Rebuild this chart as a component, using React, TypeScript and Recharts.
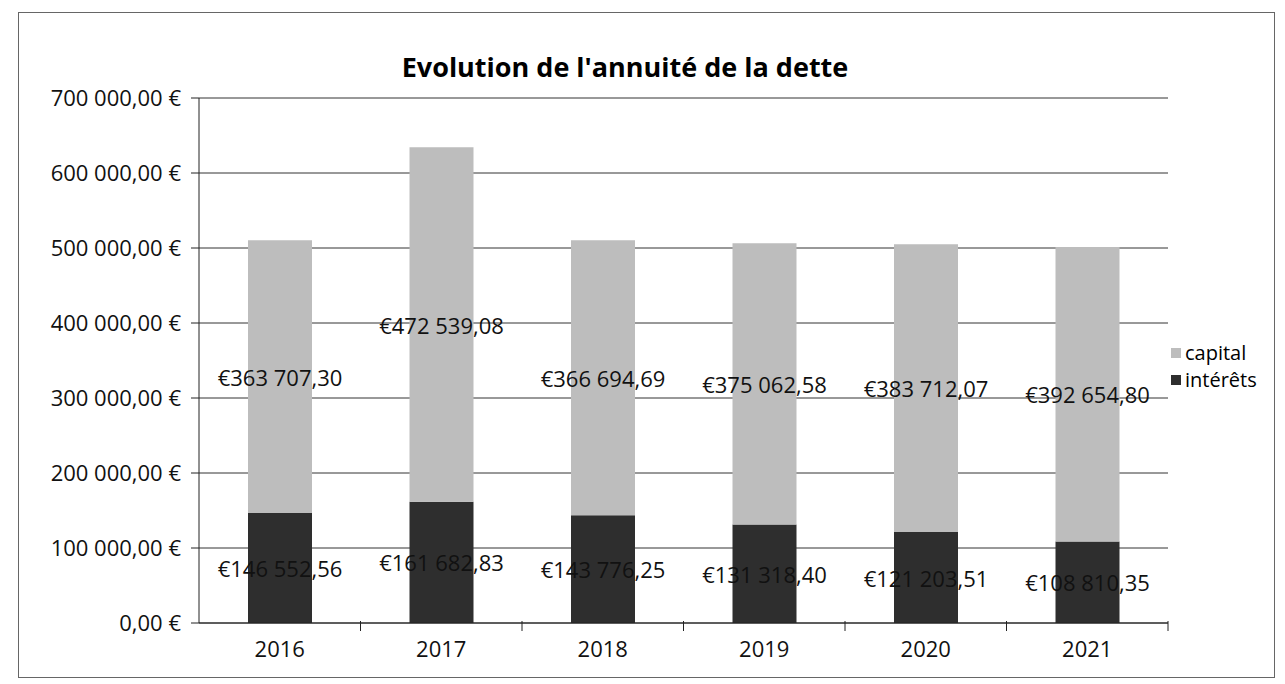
import { BarChart, Bar, XAxis, YAxis, CartesianGrid, LabelList } from 'recharts'

const years = ['2016', '2017', '2018', '2019', '2020', '2021']
const capital = [363707.3, 472539.08, 366694.69, 375062.58, 383712.07, 392654.8]
const interets = [146552.56, 161682.83, 143776.25, 131318.4, 121203.51, 108810.35]
const yTicks = [0, 100000, 200000, 300000, 400000, 500000, 600000, 700000]

const FONT = '"Open Sans", "Noto Sans", sans-serif'
const W = 1285
const H = 684
const MARGIN = { top: 98, right: 117, bottom: 31, left: 8 }
const Y_AXIS_W = 191
const BAND = (W - MARGIN.left - MARGIN.right - Y_AXIS_W) / years.length

const data = years.map((year, i) => ({
  year,
  capital: capital[i],
  interets: interets[i],
}))

// French style grouping: 363 707,30
function frNumber(v: number) {
  const [int, dec] = v.toFixed(2).split('.')
  return int.replace(/\B(?=(\d{3})+(?!\d))/g, ' ') + ',' + dec
}

const axisLabel = (v: number) => `${frNumber(v)} €`

// centred value label, never wrapped (labels are wider than the bars)
function ValueLabel(props: any) {
  const { x, y, width, height, value } = props
  return (
    <text
      x={Number(x) + Number(width) / 2}
      y={Number(y) + Number(height) / 2}
      textAnchor="middle"
      dominantBaseline="central"
      fill="#111"
      fontSize={22}
      fontFamily={FONT}
    >
      {`€${frNumber(Number(value))}`}
    </text>
  )
}

// year label + tick mark on the right edge of each category
function YearTick(props: any) {
  const { x, y, payload } = props
  return (
    <g>
      <line x1={x + BAND / 2} x2={x + BAND / 2} y1={y - 8} y2={y + 2} stroke="#222" />
      <text x={x} y={y + 28} textAnchor="middle" fill="#111" fontSize={22} fontFamily={FONT}>
        {payload.value}
      </text>
    </g>
  )
}

function Legend() {
  const items = [
    { name: 'capital', color: '#bdbdbd' },
    { name: 'intérêts', color: '#2e2e2e' },
  ]
  return (
    <div style={{ position: 'absolute', left: 1171, top: 339, fontFamily: FONT, fontSize: 20 }}>
      {items.map((it) => (
        <div key={it.name} style={{ display: 'flex', alignItems: 'center', height: 27 }}>
          <span style={{ width: 10, height: 10, background: it.color, marginRight: 4 }} />
          {it.name}
        </div>
      ))}
    </div>
  )
}

export default function App() {
  return (
    <div style={{ position: 'absolute', left: 0, top: 0, width: W, height: H, background: '#fff' }}>
      <div
        style={{
          position: 'absolute',
          left: 18,
          top: 12,
          width: 1255,
          height: 664,
          border: '1px solid #666',
        }}
      />
      <div
        style={{
          position: 'absolute',
          left: 0,
          top: 48,
          width: 1250,
          textAlign: 'center',
          fontFamily: FONT,
          fontWeight: 700,
          fontSize: 27,
        }}
      >
        Evolution de l'annuité de la dette
      </div>
      <div style={{ position: 'absolute', left: 0, top: 0 }}>
        <BarChart width={W} height={H} data={data} margin={MARGIN} barSize={64}>
          <CartesianGrid vertical={false} stroke="#333" strokeWidth={1} />
          <XAxis
            dataKey="year"
            height={30}
            axisLine={{ stroke: '#222' }}
            tickLine={false}
            tick={<YearTick />}
            tickMargin={0}
          />
          <YAxis
            width={Y_AXIS_W}
            domain={[0, 700000]}
            ticks={yTicks}
            tickFormatter={axisLabel}
            axisLine={{ stroke: '#222' }}
            tickLine={{ stroke: '#222' }}
            tickSize={8}
            tickMargin={10}
            tick={{ fill: '#111', fontSize: 22, fontFamily: FONT }}
          />
          <Bar dataKey="interets" stackId="a" fill="#2e2e2e" isAnimationActive={false}>
            <LabelList dataKey="interets" content={<ValueLabel />} />
          </Bar>
          <Bar dataKey="capital" stackId="a" fill="#bdbdbd" isAnimationActive={false}>
            <LabelList dataKey="capital" content={<ValueLabel />} />
          </Bar>
        </BarChart>
      </div>
      <Legend />
    </div>
  )
}
